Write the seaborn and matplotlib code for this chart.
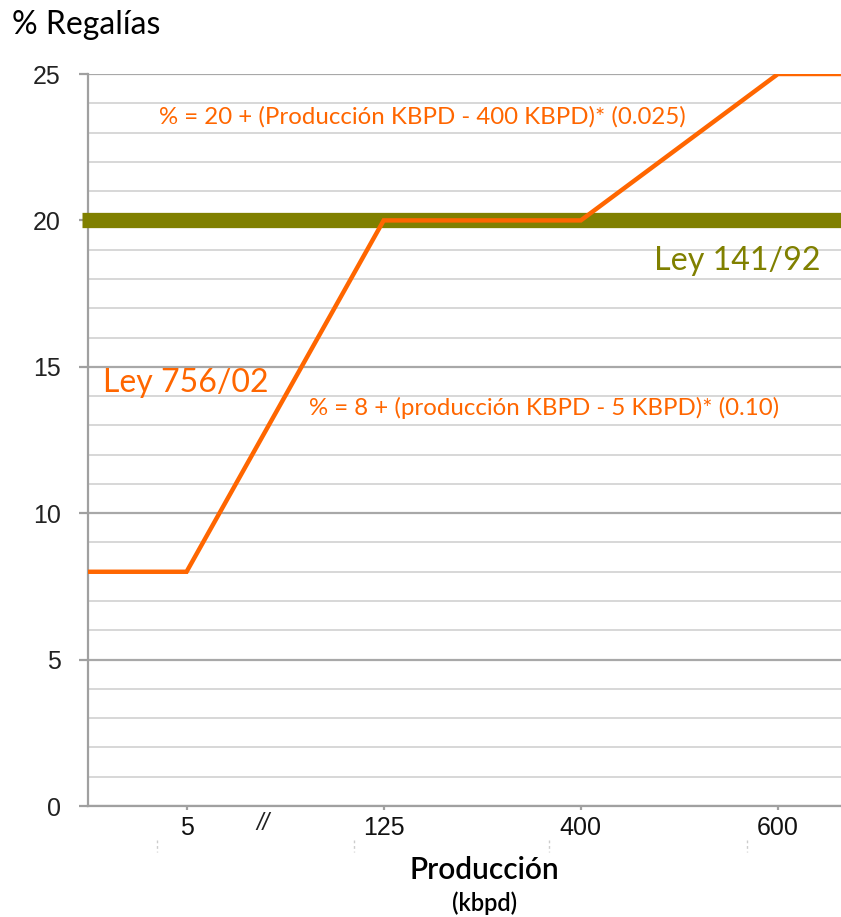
import matplotlib
matplotlib.use("Agg")
import matplotlib.pyplot as plt
import seaborn as sns
import pandas as pd
from matplotlib.ticker import MultipleLocator
from matplotlib.lines import Line2D

# ---- data ----
x_tick_labels = ["5", "125", "400", "600"]
x_tick_pos = [0, 1, 2, 3]
# Ley 756/02 curve: positions on the categorical axis and royalty %
curva_pos = [-0.5, 0, 1, 2, 3, 3.5]
curva_regalias = [8, 8, 20, 20, 25, 25]
ley_141_valor = 20
y_ticks = [0, 5, 10, 15, 20, 25]

ORANGE = "#FF6600"
OLIVE = "#808000"

sns.set_style("white")
plt.rcParams["font.family"] = ["Liberation Sans", "DejaVu Sans"]

fig = plt.figure(figsize=(8.41, 9.17), dpi=100)
ax = fig.add_axes([88/841, 1-806/917, 1-88/841, (806-74)/917])

ax.set_xlim(-0.5, 3.32)
ax.set_ylim(0, 25)

# grid
ax.yaxis.set_major_locator(MultipleLocator(5))
ax.yaxis.set_minor_locator(MultipleLocator(1))
ax.grid(which="major", axis="y", color="#a8a8a8", linewidth=1.6, zorder=0)
ax.grid(which="minor", axis="y", color="#d4d4d4", linewidth=1.3, zorder=0)
ax.set_axisbelow(True)

# olive band (Ley 141/92)
df141 = pd.DataFrame({"x": [-0.53, 3.32], "y": [ley_141_valor, ley_141_valor]})
sns.lineplot(data=df141, x="x", y="y", ax=ax, color=OLIVE, linewidth=11,
             solid_capstyle="butt", zorder=3, clip_on=False)

# orange curve (Ley 756/02)
df = pd.DataFrame({"x": curva_pos, "y": curva_regalias})
sns.lineplot(data=df, x="x", y="y", ax=ax, color=ORANGE, linewidth=3.2,
             sort=False, zorder=4, solid_joinstyle="miter")

ax.set_xticks(x_tick_pos)
ax.set_xticklabels(x_tick_labels)
ax.set_yticks(y_ticks)
ax.set_xlabel("")
ax.set_ylabel("")

for s in ["top", "right"]:
    ax.spines[s].set_visible(False)
for s in ["left", "bottom"]:
    ax.spines[s].set_color("#a0a0a0")
    ax.spines[s].set_linewidth(1.6)

ax.tick_params(axis="y", which="major", length=6.5, width=1.6, color="#a0a0a0",
               pad=13, labelsize=18, labelcolor="#222222", left=True)
ax.tick_params(axis="y", which="minor", length=0)
ax.tick_params(axis="x", length=3, width=1.6, color="#a0a0a0", pad=4,
               labelsize=18, labelcolor="#111111", bottom=True)

afont = ["Lato", "DejaVu Sans"]
ax.text(-0.142, 23.53, "% = 20 + (Producción KBPD - 400 KBPD)* (0.025)",
        color=ORANGE, fontsize=17.3, family=afont, va="center", ha="left")
ax.text(3.218, 18.6, "Ley 141/92", color=OLIVE, fontsize=23.2, family=afont,
        va="center", ha="right")
ax.text(-0.426, 14.45, "Ley 756/02", color=ORANGE, fontsize=23, family=afont,
        va="center", ha="left")
ax.text(0.619, 13.59, "% = 8 + (producción KBPD - 5 KBPD)* (0.10)",
        color=ORANGE, fontsize=17.3, family=afont, va="center", ha="left")

# axis-break mark and faint dashed separators below axis
ax.text(0.386, -0.6, "//", color="#222222", fontsize=17, ha="center",
        va="center", clip_on=False, style="italic")
for xp in [-0.152, 0.848, 1.838, 2.843]:
    ax.add_line(Line2D([xp, xp], [-1.16, -1.57], color="#cccccc", linewidth=1,
                       linestyle=(0, (2, 2)), clip_on=False))

fig.text(12/841, 1-25/917, "% Regalías", fontsize=23, family=afont,
         va="center", ha="left", color="#000000")
fig.text(484/841, 1-870/917, "Producción", fontsize=21.5, family=afont,
         va="center", ha="center", color="#000000", weight="semibold")
fig.text(485/841, 1-903/917, "(kbpd)", fontsize=17, family=afont,
         va="center", ha="center", color="#000000", weight="semibold")

fig.savefig("out.png", dpi=100)
